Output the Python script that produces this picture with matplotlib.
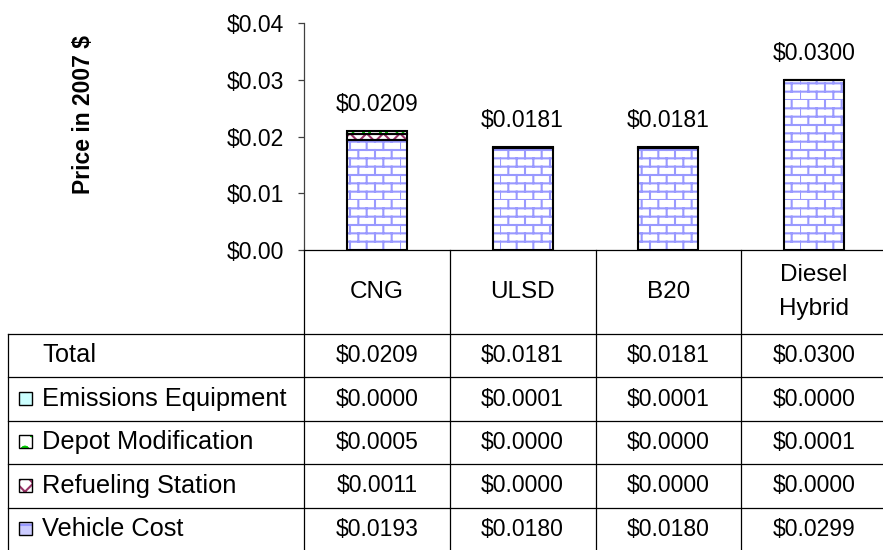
import numpy as np
import matplotlib
matplotlib.use("Agg")
import matplotlib.pyplot as plt
import matplotlib.hatch as mhatch
from matplotlib.path import Path
from matplotlib.patches import Rectangle
from matplotlib.lines import Line2D
from matplotlib.transforms import blended_transform_factory

# ---------------- data ----------------
categories = ['CNG', 'ULSD', 'B20', 'Diesel\nHybrid']
vehicle_cost = [0.0193, 0.0180, 0.0180, 0.0299]
refueling_station = [0.0011, 0.0000, 0.0000, 0.0000]
depot_modification = [0.0005, 0.0000, 0.0000, 0.0001]
emissions_equipment = [0.0000, 0.0001, 0.0001, 0.0000]
totals = [0.0209, 0.0181, 0.0181, 0.0300]
yticks = [0.00, 0.01, 0.02, 0.03, 0.04]
row_names = ['Total', 'Emissions Equipment', 'Depot Modification',
             'Refueling Station', 'Vehicle Cost']
ylabel = 'Price in 2007 $'


# ---------------- brick hatch (replaces '*') ----------------
class BrickHatch(mhatch.HatchPatternBase):
    def __init__(self, hatch, density):
        self.on = hatch.count('*') > 0
        self.rows = 12
        self.cols = 6
        self.num_vertices = (2 * (self.rows + self.rows * self.cols)) if self.on else 0

    def set_vertices_and_codes(self, vertices, codes):
        k = 0
        for r in range(self.rows):
            y = r / self.rows
            vertices[k] = (0.0, y); vertices[k + 1] = (1.0, y)
            codes[k] = Path.MOVETO; codes[k + 1] = Path.LINETO
            k += 2
        for r in range(self.rows):
            y0 = r / self.rows
            y1 = (r + 1) / self.rows
            off = 0.5 * (r % 2)
            for j in range(self.cols):
                xx = (j + off) / self.cols
                vertices[k] = (xx, y0); vertices[k + 1] = (xx, y1)
                codes[k] = Path.MOVETO; codes[k + 1] = Path.LINETO
                k += 2


mhatch._hatch_types = [t for t in mhatch._hatch_types if t is not mhatch.Stars] + [BrickHatch]

plt.rcParams['font.family'] = ['Liberation Sans', 'DejaVu Sans']
plt.rcParams['hatch.linewidth'] = 1.5

NUM_FS = 16.5
CAT_FS = 17.5
ROW_FS = 18.3

W, H = 883, 550
fig = plt.figure(figsize=(W / 100, H / 100), dpi=100)


def fx(px):
    return px / W


def fy(py):
    return 1 - py / H


ax_left, ax_right, ax_top, ax_bot = 304, 887, 23, 250
ax = fig.add_axes([fx(ax_left), fy(ax_bot), (ax_right - ax_left) / W, (ax_bot - ax_top) / H])
ax.set_xlim(-0.5, 3.5)
ax.set_ylim(0, 0.04)
x = np.arange(len(categories))

series = [
    (vehicle_cost, '#9999FF', '*', 'white'),
    (refueling_station, '#993366', 'xx', 'white'),
    (depot_modification, '#00CC00', 'o', 'white'),
    (emissions_equipment, '#CCFFFF', None, '#CCFFFF'),
]
bw = 0.41
bottom = np.zeros(len(categories))
for vals, col, hatch, face in series:
    vals = np.array(vals)
    mask = vals > 0
    if hatch:
        ax.bar(x[mask], vals[mask], bw, bottom=bottom[mask], color=face,
               edgecolor=col, hatch=hatch, linewidth=0, zorder=2)
    else:
        ax.bar(x[mask], vals[mask], bw, bottom=bottom[mask], color=face,
               linewidth=0, zorder=2)
    ax.bar(x[mask], vals[mask], bw, bottom=bottom[mask], facecolor='none',
           edgecolor='black', linewidth=1.5, zorder=3)
    bottom = bottom + vals

for i, t in enumerate(totals):
    ax.annotate(f'${t:.4f}', (i, t), xytext=(0, 14.5), textcoords='offset points',
                ha='center', va='baseline', fontsize=NUM_FS, color='black')

for s in ['top', 'right']:
    ax.spines[s].set_visible(False)
ax.spines['left'].set_color('#404040')
ax.spines['bottom'].set_color('black')
ax.spines['left'].set_linewidth(0.9)
ax.spines['bottom'].set_linewidth(0.9)
ax.set_yticks(yticks)
ax.set_yticklabels([f'${v:.2f}' for v in yticks])
ax.tick_params(axis='y', direction='out', length=4.5, width=0.9, color='#404040',
               labelsize=NUM_FS, pad=10)
ax.set_xticks([])

fig.text(fx(83), fy(114), ylabel, rotation=90, fontsize=16.5, fontweight='bold',
         ha='center', va='center')

# ---------------- table ----------------
bt = blended_transform_factory(ax.transData, fig.transFigure)
row_lines = [334, 377, 421, 464, 508]
row_centers = [355.5, 399, 442.5, 486, 529.5]

# category header row
for i, c in enumerate(categories):
    ax.text(i, fy(292), c, transform=bt, ha='center', va='center', fontsize=CAT_FS,
            linespacing=1.75, clip_on=False)

# grid lines
for b in [-0.5, 0.5, 1.5, 2.5]:
    ax.add_line(Line2D([b, b], [fy(ax_bot), 0], transform=bt, color='black',
                       lw=0.9, clip_on=False))
fig.add_artist(Line2D([fx(8), fx(8)], [fy(334), 0], color='black', lw=0.9))
for yl in row_lines:
    fig.add_artist(Line2D([fx(8), 1], [fy(yl), fy(yl)], color='black', lw=0.9))

table_rows = [totals, emissions_equipment, depot_modification, refueling_station, vehicle_cost]
for name, vals, yc in zip(row_names, table_rows, row_centers):
    fig.text(fx(42), fy(yc), name, ha='left', va='center', fontsize=ROW_FS)
    for i, v in enumerate(vals):
        ax.text(i, fy(yc), f'${v:.4f}', transform=bt, ha='center', va='center',
                fontsize=NUM_FS, clip_on=False)

# legend icons
icon_specs = [None,
              ('#CCFFFF', None, '#CCFFFF'),
              ('white', 'o', '#00CC00'),
              ('white', 'xx', '#993366'),
              ('#CCCCFF', '-', '#9999FF')]
S = 13
for spec, yc in zip(icon_specs, row_centers):
    if spec is None:
        continue
    face, hatch, hcol = spec
    pos = (fx(19), fy(yc + S / 2 - 1))
    if hatch:
        fig.add_artist(Rectangle(pos, S / W, S / H, facecolor=face,
                                 edgecolor=hcol, hatch=hatch, linewidth=0,
                                 transform=fig.transFigure))
    else:
        fig.add_artist(Rectangle(pos, S / W, S / H, facecolor=face,
                                 linewidth=0, transform=fig.transFigure))
    fig.add_artist(Rectangle(pos, S / W, S / H, facecolor='none',
                             edgecolor='black', linewidth=1.0, transform=fig.transFigure))

fig.savefig('out.png', dpi=100)
